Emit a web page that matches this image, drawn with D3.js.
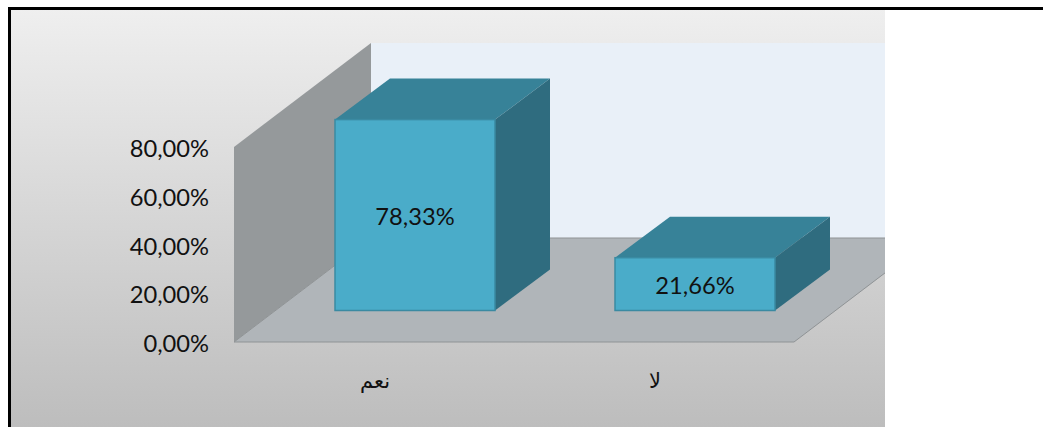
<!DOCTYPE html>
<html><head><meta charset="utf-8">
<script src="https://cdn.jsdelivr.net/npm/d3@7"></script>
<style>html,body{margin:0;padding:0;background:#fff;overflow:hidden}svg{display:block}text{font-family:Lato,"Open Sans",sans-serif;fill:#111}</style>
</head><body><script>
const categories = ["نعم", "لا"];
const percentValues = [78.33, 21.66];
const valueLabels = ["78,33%", "21,66%"];
const tickValues = [0, 20, 40, 60, 80];
const tickLabels = ["0,00%", "20,00%", "40,00%", "60,00%", "80,00%"];

const W = 1043, H = 427, chartRight = 885;
const svg = d3.select("body").append("svg").attr("width", W).attr("height", H);
const defs = svg.append("defs");
const g = defs.append("linearGradient").attr("id", "bg").attr("x1", 0).attr("x2", 0).attr("y1", 0).attr("y2", 1);
g.append("stop").attr("offset", 0).attr("stop-color", "#efefef");
g.append("stop").attr("offset", 1).attr("stop-color", "#bdbdbd");
defs.append("clipPath").attr("id", "clip").append("rect").attr("x", 0).attr("y", 0).attr("width", chartRight).attr("height", H);

const y = d3.scaleLinear().domain([0, 80]).range([342, 147]);
const x = d3.scaleBand().domain(categories).range([234, 794]);
const depthX = 137, depthY = 104, barW = 160, barDX = 55, barDY = 41;
const slotX = (depthX - barDX) / 2, slotY = (depthY - barDY) / 2;
const poly = pts => pts.map(p => p.join(",")).join(" ");
const y0 = y(0), yTop = y(80), xL = x.range()[0], xR = x.range()[1];

svg.append("rect").attr("x", 9).attr("y", 8).attr("width", chartRight - 9).attr("height", H - 8).attr("fill", "url(#bg)");

const plot = svg.append("g").attr("clip-path", "url(#clip)");
plot.append("rect").attr("x", xL + depthX).attr("y", yTop - depthY).attr("width", chartRight - xL - depthX).attr("height", y0 - yTop).attr("fill", "#e9f0f8");
plot.append("polygon").attr("points", poly([[xL, y0], [xL, yTop], [xL + depthX, yTop - depthY], [xL + depthX, y0 - depthY]]))
  .attr("fill", "#95999b");
plot.append("polygon").attr("points", poly([[xL, y0], [xR, y0], [xR + depthX, y0 - depthY], [xL + depthX, y0 - depthY]]))
  .attr("fill", "#b0b5b9").attr("stroke", "#8f9395").attr("stroke-width", 1);

const bars = plot.selectAll("g.bar").data(categories.map((c, i) => ({c, v: percentValues[i], label: valueLabels[i]}))).join("g").attr("class", "bar");
const bx = d => x(d.c) + x.bandwidth() / 2 + slotX - barW / 2;
const barBase = y0 - slotY;
const barTop = d => barBase - (y0 - y(d.v));
bars.append("polygon").attr("points", d => poly([[bx(d), barTop(d)], [bx(d) + barW, barTop(d)], [bx(d) + barW + barDX, barTop(d) - barDY], [bx(d) + barDX, barTop(d) - barDY]])).attr("fill", "#378298");
bars.append("polygon").attr("points", d => poly([[bx(d) + barW, barTop(d)], [bx(d) + barW + barDX, barTop(d) - barDY], [bx(d) + barW + barDX, barBase - barDY], [bx(d) + barW, barBase]])).attr("fill", "#2f6c7f");
bars.append("rect").attr("x", d => bx(d)).attr("y", d => barTop(d)).attr("width", barW).attr("height", d => barBase - barTop(d))
  .attr("fill", "#4aacc9").attr("stroke", "#3a8aa2").attr("stroke-width", 1.5);
bars.append("text").attr("x", d => bx(d) + barW / 2).attr("y", d => (barTop(d) + barBase) / 2 + 10)
  .attr("text-anchor", "middle").style("font-size", "23.7px").text(d => d.label);

const yAxis = d3.axisLeft(y).tickValues(tickValues).tickFormat((d, i) => tickLabels[i]).tickSize(0).tickPadding(25);
const ya = svg.append("g").attr("transform", `translate(${xL},2)`).call(yAxis);
ya.select(".domain").remove();
ya.selectAll("text").style("font-size", "23.7px").attr("fill", "#111");

const xAxis = d3.axisBottom(x).tickSize(0).tickPadding(31);
const xa = svg.append("g").attr("transform", `translate(1,${y0})`).call(xAxis);
xa.select(".domain").remove();
xa.selectAll("text").style("font-family", '"DejaVu Sans"').style("font-size", "21px").attr("fill", "#111");

svg.append("line").attr("x1", 8).attr("x2", W).attr("y1", 8.5).attr("y2", 8.5).attr("stroke", "#000").attr("stroke-width", 3);
svg.append("line").attr("x1", 9.5).attr("x2", 9.5).attr("y1", 7).attr("y2", H).attr("stroke", "#000").attr("stroke-width", 3);
</script></body></html>
